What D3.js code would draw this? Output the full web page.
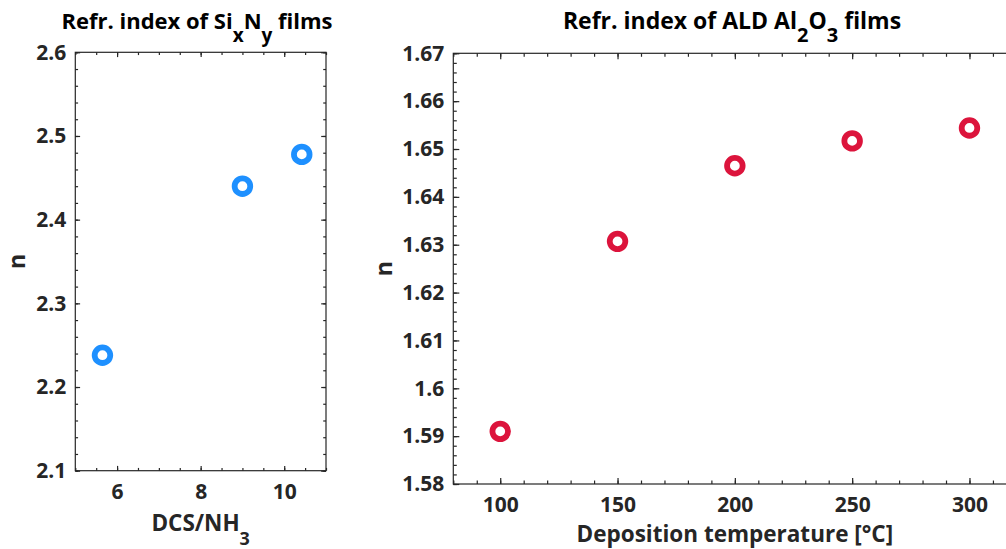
<!DOCTYPE html>
<html>
<head>
<meta charset="utf-8">
<script src="https://cdn.jsdelivr.net/npm/d3@7"></script>
<style>
    body { margin: 0; background: #fff; }
    svg { display: block; font-family: "Open Sans", Lato, sans-serif; font-weight: bold; }
    .tick text { fill: #262626; font-size: 21px; font-family: "Open Sans", Lato, sans-serif; }
    .domain { display: none; }
    .tick line { stroke: #262626; stroke-width: 1.2; }
</style>
</head>
<body>
<div id="chart"></div>
<script>
// Si_xN_y films
var dcsRatio = [5.65, 9.0, 10.42];
var sinIndex = [2.238, 2.44, 2.478];
// ALD Al2O3 films
var depTemp = [100, 150, 200, 250, 300];
var alIndex = [1.591, 1.6307, 1.6465, 1.6517, 1.6544];

// axis ticks
var sinXTicks = [6, 8, 10];
var sinXMinor = [5, 5.5, 6, 6.5, 7, 7.5, 8, 8.5, 9, 9.5, 10, 10.5, 11];
var sinYTicks = [2.1, 2.2, 2.3, 2.4, 2.5, 2.6];
var alXTicks = [100, 150, 200, 250, 300];
var alYTicks = [1.58, 1.59, 1.6, 1.61, 1.62, 1.63, 1.64, 1.65, 1.66, 1.67];

function minorTicks(lo, hi, step) {
    "use strict";
    // evenly spaced minor tick positions between axis limits
    var n = Math.round((hi - lo) / step);
    return d3.range(n + 1).map(function(i) { return +(lo + i * step).toFixed(4); });
}

function fmt(d) {
    "use strict";
    return String(+d.toFixed(3));
}

function drawPanel(svg, p) {
    "use strict";
    var x = d3.scaleLinear().domain(p.xDomain).range([p.left, p.right]);
    var y = d3.scaleLinear().domain(p.yDomain).range([p.bottom, p.top]);
    var g = svg.append("g");
    var big = p.tickLen, small = p.tickLen * 0.58;

    // minor ticks, all four sides
    g.append("g").attr("transform", "translate(0," + p.bottom + ")")
        .call(d3.axisBottom(x).tickValues(p.xMinor).tickSize(-small).tickFormat(""));
    g.append("g").attr("transform", "translate(0," + p.top + ")")
        .call(d3.axisTop(x).tickValues(p.xMinor).tickSize(-small).tickFormat(""));
    g.append("g").attr("transform", "translate(" + p.left + ",0)")
        .call(d3.axisLeft(y).tickValues(p.yMinor).tickSize(-small).tickFormat(""));
    g.append("g").attr("transform", "translate(" + p.right + ",0)")
        .call(d3.axisRight(y).tickValues(p.yMinor).tickSize(-small).tickFormat(""));

    // major ticks with labels
    g.append("g").attr("transform", "translate(0," + p.bottom + ")")
        .call(d3.axisBottom(x).tickValues(p.xTicks).tickSize(-big).tickPadding(13).tickFormat(fmt));
    g.append("g").attr("transform", "translate(0," + p.top + ")")
        .call(d3.axisTop(x).tickValues(p.xTicks).tickSize(-big).tickFormat(""));
    g.append("g").attr("transform", "translate(" + p.left + ",0)")
        .call(d3.axisLeft(y).tickValues(p.yTicks).tickSize(-big).tickPadding(9).tickFormat(fmt));
    g.append("g").attr("transform", "translate(" + p.right + ",0)")
        .call(d3.axisRight(y).tickValues(p.yTicks).tickSize(-big).tickFormat(""));

    // box
    g.append("rect")
        .attr("x", p.left).attr("y", p.top)
        .attr("width", p.right - p.left).attr("height", p.bottom - p.top)
        .attr("fill", "none").attr("stroke", "#262626").attr("stroke-width", 1.2);

    // markers
    g.append("g").selectAll("circle")
        .data(p.xs)
        .enter()
        .append("circle")
        .attr("cx", function(d) { return x(d); })
        .attr("cy", function(d, i) { return y(p.ys[i]); })
        .attr("r", 7.8)
        .attr("fill", "none")
        .attr("stroke", p.color)
        .attr("stroke-width", 5.8);

    // title
    var t = svg.append("text")
        .attr("x", p.titleX).attr("y", 29.3)
        .attr("text-anchor", "middle")
        .attr("font-size", p.titleSize)
        .attr("fill", "#000");
    p.title.forEach(function(part) {
        var s = t.append("tspan").text(part[0]);
        if (part[1]) {
            s.attr("dy", part[1]).attr("font-size", part[1] > 0 ? p.titleSize - 3 : p.titleSize);
        }
    });

    // x label
    var xl = svg.append("text")
        .attr("x", (p.left + p.right) / 2).attr("y", p.xLabelY)
        .attr("text-anchor", "middle")
        .attr("font-size", 22.5)
        .attr("fill", "#262626");
    p.xLabel.forEach(function(part) {
        var s = xl.append("tspan").text(part[0]);
        if (part[1]) {
            s.attr("dy", part[1]).attr("font-size", 18);
        }
    });

    // y label
    svg.append("text")
        .attr("transform", "translate(" + p.yLabelX + "," + (p.top + p.bottom) / 2 + ") rotate(-90)")
        .attr("text-anchor", "middle")
        .attr("font-size", 23)
        .attr("fill", "#262626")
        .text("n");
}

var svg = d3.select("#chart").append("svg")
    .attr("width", 1006)
    .attr("height", 549);

drawPanel(svg, {
    left: 75.3, right: 326, top: 52.3, bottom: 470.7,
    xDomain: [5, 11], yDomain: [2.1, 2.6],
    xTicks: sinXTicks, xMinor: sinXMinor,
    yTicks: sinYTicks, yMinor: minorTicks(2.1, 2.6, 0.02),
    tickLen: 4.8,
    xs: dcsRatio, ys: sinIndex, color: "#1e90ff",
    titleX: 197, titleSize: 22,
    title: [["Refr. index of Si"], ["x", 13], ["N", -13], ["y", 13], [" films", -13]],
    xLabel: [["DCS/NH"], ["3", 14]],
    xLabelY: 530.5,
    yLabelX: 25
});

drawPanel(svg, {
    left: 453.3, right: 1016.4, top: 53.3, bottom: 484,
    xDomain: [80, 320], yDomain: [1.58, 1.67],
    xTicks: alXTicks, xMinor: minorTicks(80, 320, 10),
    yTicks: alYTicks, yMinor: minorTicks(1.58, 1.67, 0.002),
    tickLen: 6,
    xs: depTemp, ys: alIndex, color: "#dc143c",
    titleX: 732, titleSize: 23,
    title: [["Refr. index of ALD Al"], ["2", 13], ["O", -13], ["3", 13], [" films", -13]],
    xLabel: [["Deposition temperature [°C]"]],
    xLabelY: 542,
    yLabelX: 391.7
});
</script>
</body>
</html>
